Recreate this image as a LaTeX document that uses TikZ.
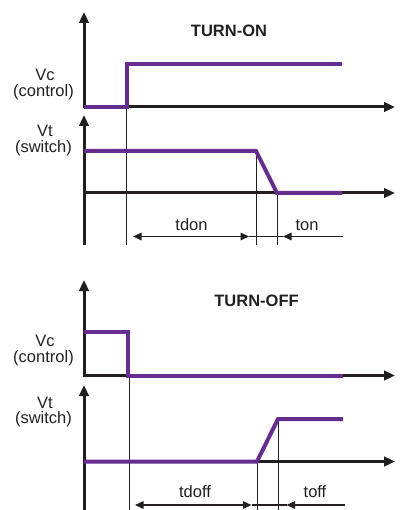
\documentclass[tikz,border=0pt]{standalone}
\usepackage{fontspec}
\setmainfont{Liberation Sans}
\usetikzlibrary{arrows.meta}
\definecolor{sigcol}{RGB}{102,45,145}
\definecolor{axcol}{RGB}{35,31,32}
\tikzset{
  axis/.style={line width=3pt, draw=axcol, -{Triangle[length=11pt,width=9.5pt]}},
  sig/.style={line width=4pt, draw=sigcol, line join=miter, line cap=butt},
  guide/.style={line width=1pt, draw=axcol},
  dimline/.style={line width=1.4pt, draw=axcol},
  dimboth/.style={{Triangle[length=8.5pt,width=7.5pt]}-{Triangle[length=8.5pt,width=7.5pt]}},
  dimend/.style={-{Triangle[length=8.5pt,width=7.5pt]}},
  lbl/.style={font=\fontsize{16.5}{18}\selectfont, text=axcol, inner sep=0pt, anchor=base},
  ttl/.style={font=\fontsize{16.5}{18}\selectfont\bfseries, text=axcol, inner sep=0pt, anchor=base},
}
\begin{document}
\begin{tikzpicture}[x=1pt,y=-1pt]
\useasboundingbox (0,0) rectangle (401,510);
% ---------------- TURN-ON ----------------
\coordinate (aO) at (84,107);
\coordinate (aTop) at (84,12);
\coordinate (aEnd) at (395,107);
\coordinate (bO) at (84,193);
\coordinate (bBot) at (84,245);
\coordinate (bTop) at (84,115);
\coordinate (bEnd) at (395,193);
\draw[axis] (aO) -- (aTop);
\draw[axis] (bBot) -- (bTop);
\draw[axis] ([xshift=-1.5pt]aO) -- (aEnd);
\draw[axis] ([xshift=-1.5pt]bO) -- (bEnd);
% guides
\coordinate (g1) at (126.5,107);  \coordinate (g1b) at (126.5,245);
\coordinate (g2) at (256,151);    \coordinate (g2b) at (256,245);
\coordinate (g3) at (277,193);    \coordinate (g3b) at (277,245);
\draw[guide] (g1) -- (g1b);
\draw[guide] (g2) -- (g2b);
\draw[guide] (g3) -- (g3b);
% signals
\draw[sig] (84,107) -- (126.5,107) -- (126.5,64) -- (342,64);
\draw[sig] (84,151) -- (256,151) -- (277,193) -- (342,193);
% dimensions
\coordinate (d1) at (133,236.5);
\coordinate (d2) at (249,236.5);
\coordinate (d3) at (283,236.5);
\coordinate (d4) at (343,236.5);
\draw[dimline, dimboth] (d1) -- (d2);
\draw[dimline] (d2) -- (d3);
\draw[dimline, dimend] (d4) -- (d3);
% labels
\node[ttl] (t1) at (229,37) {TURN-ON};
\node[lbl] (vc1) at (45,80.5) {Vc};
\node[lbl] (vc1b) at (43.5,96.7) {(control)};
\node[lbl] (vt1) at (45,137) {Vt};
\node[lbl] (vt1b) at (43.5,152.7) {(switch)};
\node[lbl] (tdon) at (191.5,230.5) {tdon};
\node[lbl] (ton) at (307,230.5) {ton};
% ---------------- TURN-OFF ----------------
\coordinate (cO) at (84,375.5);
\coordinate (cTop) at (84,280);
\coordinate (cEnd) at (395,375.5);
\coordinate (eO) at (84,461.5);
\coordinate (eBot) at (84,512);
\coordinate (eTop) at (84,385);
\coordinate (eEnd) at (395,461.5);
\draw[axis] (cO) -- (cTop);
\draw[axis] (eBot) -- (eTop);
\draw[axis] ([xshift=-1.5pt]cO) -- (cEnd);
\draw[axis] ([xshift=-1.5pt]eO) -- (eEnd);
\coordinate (h1) at (129,375.5); \coordinate (h1b) at (129,512);
\coordinate (h2) at (257,461.5); \coordinate (h2b) at (257,512);
\coordinate (h3) at (278,419);   \coordinate (h3b) at (278,512);
\draw[guide] (h1) -- (h1b);
\draw[guide] (h2) -- (h2b);
\draw[guide] (h3) -- (h3b);
\draw[sig] (84,331.5) -- (128,331.5) -- (128,375.5) -- (343,375.5);
\draw[sig] (84,461.5) -- (257,461.5) -- (278,419) -- (343,419);
\coordinate (e1) at (135,505);
\coordinate (e2) at (251.5,505);
\coordinate (e3) at (286.5,505);
\coordinate (e4) at (345,505);
\draw[dimline, dimboth] (e1) -- (e2);
\draw[dimline] (e2) -- (e3);
\draw[dimline, dimend] (e4) -- (e3);
\node[ttl] (t2) at (256.5,306.5) {TURN-OFF};
\node[lbl] (vc2) at (45,346.7) {Vc};
\node[lbl] (vc2b) at (43.5,362.7) {(control)};
\node[lbl] (vt2) at (45,408) {Vt};
\node[lbl] (vt2b) at (43.5,423.3) {(switch)};
\node[lbl] (tdoff) at (195,497) {tdoff};
\node[lbl] (toff) at (315,497) {toff};
\end{tikzpicture}
\end{document}
